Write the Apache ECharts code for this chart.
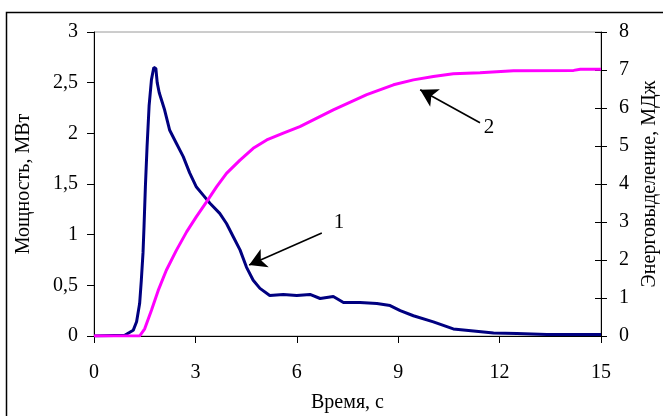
<!DOCTYPE html>
<html><head><meta charset="utf-8">
<script src="https://cdn.jsdelivr.net/npm/echarts@6/dist/echarts.min.js"></script>
<style>html,body{margin:0;padding:0;background:#fff}#c{width:663px;height:416px}</style>
</head><body><div id="c"></div>
<script>
const xTicks = [0, 3, 6, 9, 12, 15];
const powerTicks = ['0', '0,5', '1', '1,5', '2', '2,5', '3'];
const energyTicks = ['0','1','2','3','4','5','6','7','8'];

const powerTime = [0, 0.91, 1.16, 1.26, 1.35, 1.40, 1.45, 1.48, 1.52, 1.57, 1.63, 1.70, 1.74, 1.77, 1.80, 1.83, 1.87, 1.93, 2.09, 2.24, 2.44, 2.64, 2.83, 3.03, 3.23, 3.43, 3.72, 3.92, 4.12, 4.32, 4.51, 4.71, 4.91, 5.20, 5.60, 6.0, 6.39, 6.69, 7.08, 7.38, 7.87, 8.37, 8.76, 9.06, 9.45, 10.04, 10.63, 11.23, 11.82, 12.51, 13.40, 15];
const power     = [0, 0.007, 0.056, 0.14, 0.32, 0.55, 0.82, 1.08, 1.47, 1.87, 2.27, 2.53, 2.60, 2.65, 2.66, 2.64, 2.50, 2.40, 2.23, 2.03, 1.90, 1.77, 1.61, 1.47, 1.39, 1.31, 1.21, 1.11, 0.98, 0.85, 0.68, 0.55, 0.47, 0.40, 0.41, 0.40, 0.41, 0.37, 0.39, 0.33, 0.33, 0.32, 0.30, 0.25, 0.20, 0.14, 0.07, 0.05, 0.03, 0.024, 0.014, 0.014];

const energyTime = [0, 1.35, 1.50, 1.70, 1.90, 2.14, 2.44, 2.74, 3.03, 3.33, 3.63, 3.92, 4.32, 4.71, 5.11, 5.60, 6.09, 7.08, 8.07, 8.86, 9.45, 10.04, 10.63, 11.42, 12.41, 14.19, 14.39, 15];
const energy     = [0, 0, 0.19, 0.68, 1.2, 1.73, 2.26, 2.74, 3.14, 3.53, 3.93, 4.28, 4.63, 4.94, 5.16, 5.34, 5.51, 5.95, 6.35, 6.61, 6.74, 6.83, 6.90, 6.93, 6.98, 6.99, 7.02, 7.02];

// annotation positions in data units
const arrow1 = [[6.74, 1.016], [4.59, 0.70]];
const label1 = [7.25, 1.125];
const arrow2 = [[11.42, 5.61], [9.65, 6.48]];
const label2 = [11.69, 5.48];

const font = 'Liberation Serif';
const fs = 20;
const chart = echarts.init(document.getElementById('c'), null, {renderer: 'canvas'});
const zip = (a, b) => a.map((v, i) => [v, b[i]]);
const arrowStyle = {color: '#000', width: 1.6, type: 'solid'};

chart.setOption({
  animation: false,
  backgroundColor: '#fff',
  graphic: [{type: 'rect', shape: {x: 6.5, y: 12.5, width: 720, height: 500}, style: {fill: 'none', stroke: '#000', lineWidth: 1.5}, z: -1}],
  grid: {left: 94, right: 62, top: 32, bottom: 80, containLabel: false, outerBoundsMode: 'none',
    show: true, borderColor: '#9a9a9a', borderWidth: 1, backgroundColor: 'transparent'},
  xAxis: {
    type: 'value', min: 0, max: 15, interval: 3,
    name: 'Время, с', nameLocation: 'middle', nameGap: 57,
    nameTextStyle: {fontFamily: font, fontSize: fs, color: '#000'},
    axisLine: {lineStyle: {color: '#000', width: 1}},
    axisTick: {show: true, length: 7, inside: false, lineStyle: {color: '#000'}},
    axisLabel: {fontFamily: font, fontSize: fs, color: '#000', margin: 27,
      formatter: v => xTicks.includes(v) ? String(v) : ''},
    splitLine: {show: false}
  },
  yAxis: [{
    type: 'value', min: 0, max: 3, interval: 0.5, position: 'left',
    name: 'Мощность, МВт', nameLocation: 'middle', nameGap: 60, nameRotate: 90,
    nameTextStyle: {fontFamily: font, fontSize: fs, color: '#000'},
    axisLine: {show: true, lineStyle: {color: '#000', width: 1}},
    axisTick: {show: true, length: 7, lineStyle: {color: '#000'}},
    axisLabel: {fontFamily: font, fontSize: fs, color: '#000', margin: 16,
      formatter: v => powerTicks[Math.round(v * 2)]},
    splitLine: {show: false}
  }, {
    type: 'value', min: 0, max: 8, interval: 1, position: 'right',
    name: 'Энерговыделение, МДж', nameLocation: 'middle', nameGap: 30, nameRotate: 90,
    nameTextStyle: {fontFamily: font, fontSize: fs, color: '#000'},
    axisLine: {show: true, lineStyle: {color: '#000', width: 1}},
    axisTick: {show: false},
    axisLabel: {fontFamily: font, fontSize: fs, color: '#000', margin: 18,
      formatter: v => energyTicks[Math.round(v)]},
    splitLine: {show: false}
  }, {
    // crossing ticks for the right axis
    type: 'value', min: 0, max: 8, interval: 1, position: 'right', offset: -6,
    axisLine: {show: false},
    axisTick: {show: true, length: 12, lineStyle: {color: '#000'}},
    axisLabel: {show: false},
    splitLine: {show: false}
  }],
  series: [{
    type: 'line', yAxisIndex: 0, data: zip(powerTime, power), showSymbol: false, symbol: 'none',
    lineStyle: {color: '#000080', width: 3}, z: 2,
    markLine: {silent: true, symbol: ['none', 'arrow'], symbolSize: [15, 17], label: {show: false},
      lineStyle: arrowStyle,
      data: [[{coord: arrow1[0]}, {coord: arrow1[1]}]]},
    markPoint: {silent: true, symbol: 'circle', symbolSize: 1, itemStyle: {color: 'rgba(0,0,0,0)'},
      label: {show: true, position: 'inside', formatter: '1', fontFamily: font, fontSize: 21, color: '#000'},
      data: [{coord: label1}]}
  }, {
    type: 'line', yAxisIndex: 1, data: zip(energyTime, energy), showSymbol: false, symbol: 'none',
    lineStyle: {color: '#ff00ff', width: 3}, z: 3,
    markLine: {silent: true, symbol: ['none', 'arrow'], symbolSize: [15, 17], label: {show: false},
      lineStyle: arrowStyle,
      data: [[{coord: arrow2[0]}, {coord: arrow2[1]}]]},
    markPoint: {silent: true, symbol: 'circle', symbolSize: 1, itemStyle: {color: 'rgba(0,0,0,0)'},
      label: {show: true, position: 'inside', formatter: '2', fontFamily: font, fontSize: 21, color: '#000'},
      data: [{coord: label2}]}
  }]
});
</script></body></html>
